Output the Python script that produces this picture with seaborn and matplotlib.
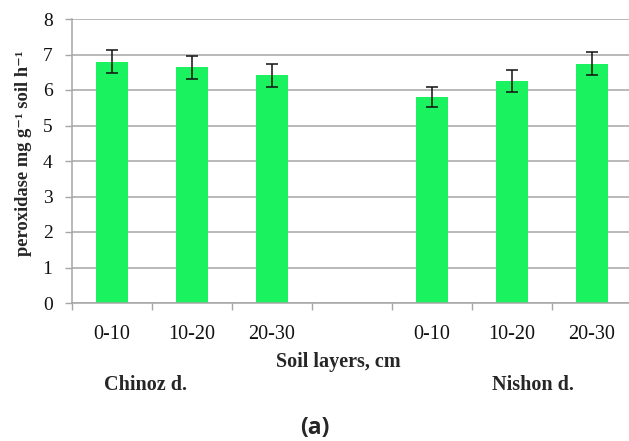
import matplotlib
matplotlib.use("Agg")
import matplotlib.pyplot as plt
from matplotlib.ticker import FixedLocator, MultipleLocator
import seaborn as sns
import pandas as pd

# Peroxidase activity by soil layer at two districts
sites = ["Chinoz d.", "Nishon d."]
layers = ["0-10", "10-20", "20-30"]
chinoz_mean = [6.80, 6.64, 6.41]
chinoz_err = [0.33, 0.33, 0.32]
nishon_mean = [5.80, 6.25, 6.74]
nishon_err = [0.29, 0.31, 0.32]
y_ticks = [0, 1, 2, 3, 4, 5, 6, 7, 8]

# Category slots: three Chinoz layers, an empty spacer, three Nishon layers
order = [f"{sites[0]}|{l}" for l in layers] + [""] + [f"{sites[1]}|{l}" for l in layers]
df = pd.DataFrame({
    "slot": [f"{sites[0]}|{l}" for l in layers] + [f"{sites[1]}|{l}" for l in layers],
    "value": chinoz_mean + nishon_mean,
    "err": chinoz_err + nishon_err,
})

sns.set_theme(style="white")
serif = ["Liberation Serif", "DejaVu Serif"]
plt.rcParams["font.family"] = serif

W, H = 629, 441
fig = plt.figure(figsize=(W / 100, H / 100), dpi=100)
ax = fig.add_axes([72 / W, 1 - 303 / H, (632 - 72) / W, (303 - 19) / H])

sns.barplot(data=df, x="slot", y="value", order=order, width=0.4,
            color="#1af25f", saturation=1, linewidth=0, errorbar=None, ax=ax)

xpos = [order.index(s) for s in df["slot"]]
ax.errorbar(xpos, df["value"], yerr=df["err"], fmt="none", ecolor="#111111",
            elinewidth=1.1, capsize=4, capthick=1.1, zorder=5)

grid_c = "#a6a6a6"
ax.set_ylim(0, 8)
ax.set_xlim(-0.5, len(order) - 0.5)
ax.yaxis.set_major_locator(FixedLocator(y_ticks))
ax.yaxis.grid(True, color=grid_c, linewidth=1.1)
ax.set_axisbelow(True)
for side in ["top", "right"]:
    ax.spines[side].set_visible(False)
for side in ["left", "bottom"]:
    ax.spines[side].set_color(grid_c)
    ax.spines[side].set_linewidth(1.1)

ax.set_xticks(range(len(order)))
ax.set_xticklabels([s.split("|")[-1] for s in order])
ax.xaxis.set_minor_locator(MultipleLocator(1, offset=0.5))
ax.tick_params(axis="x", which="major", length=0, pad=15.5, labelsize=14.5, labelcolor="#111111")
ax.tick_params(axis="x", which="minor", length=5, width=1, color=grid_c, direction="out", bottom=True)
ax.tick_params(axis="y", length=5, width=1, color=grid_c, direction="out", pad=9,
               labelsize=14, labelcolor="#111111", left=True)

ax.set_xlabel("Soil layers, cm", fontsize=14.5, fontweight="bold", family=serif)
ax.xaxis.set_label_coords((338 - 72) / 560, (303 - 362) / 284)
ax.xaxis.label.set_va("center")
ax.set_ylabel("peroxidase mg g\u207b\u00b9 soil h\u207b\u00b9", fontsize=13.3, fontweight="bold", family=serif)
ax.yaxis.set_label_coords((23 - 72) / 560, (303 - 153) / 284)
ax.yaxis.label.set_va("center")

for name, xc in zip(sites, [145, 533]):
    ax.text((xc - 72) / 560, (303 - 385) / 284, name, transform=ax.transAxes,
            ha="center", va="center", fontsize=14.5, fontweight="bold", family=serif)

fig.text(315 / W, 1 - 428 / H, "(a)", ha="center", va="center",
         fontsize=16.5, fontweight="bold", family=["Open Sans", "DejaVu Sans"])

fig.savefig("out.png", dpi=100)
